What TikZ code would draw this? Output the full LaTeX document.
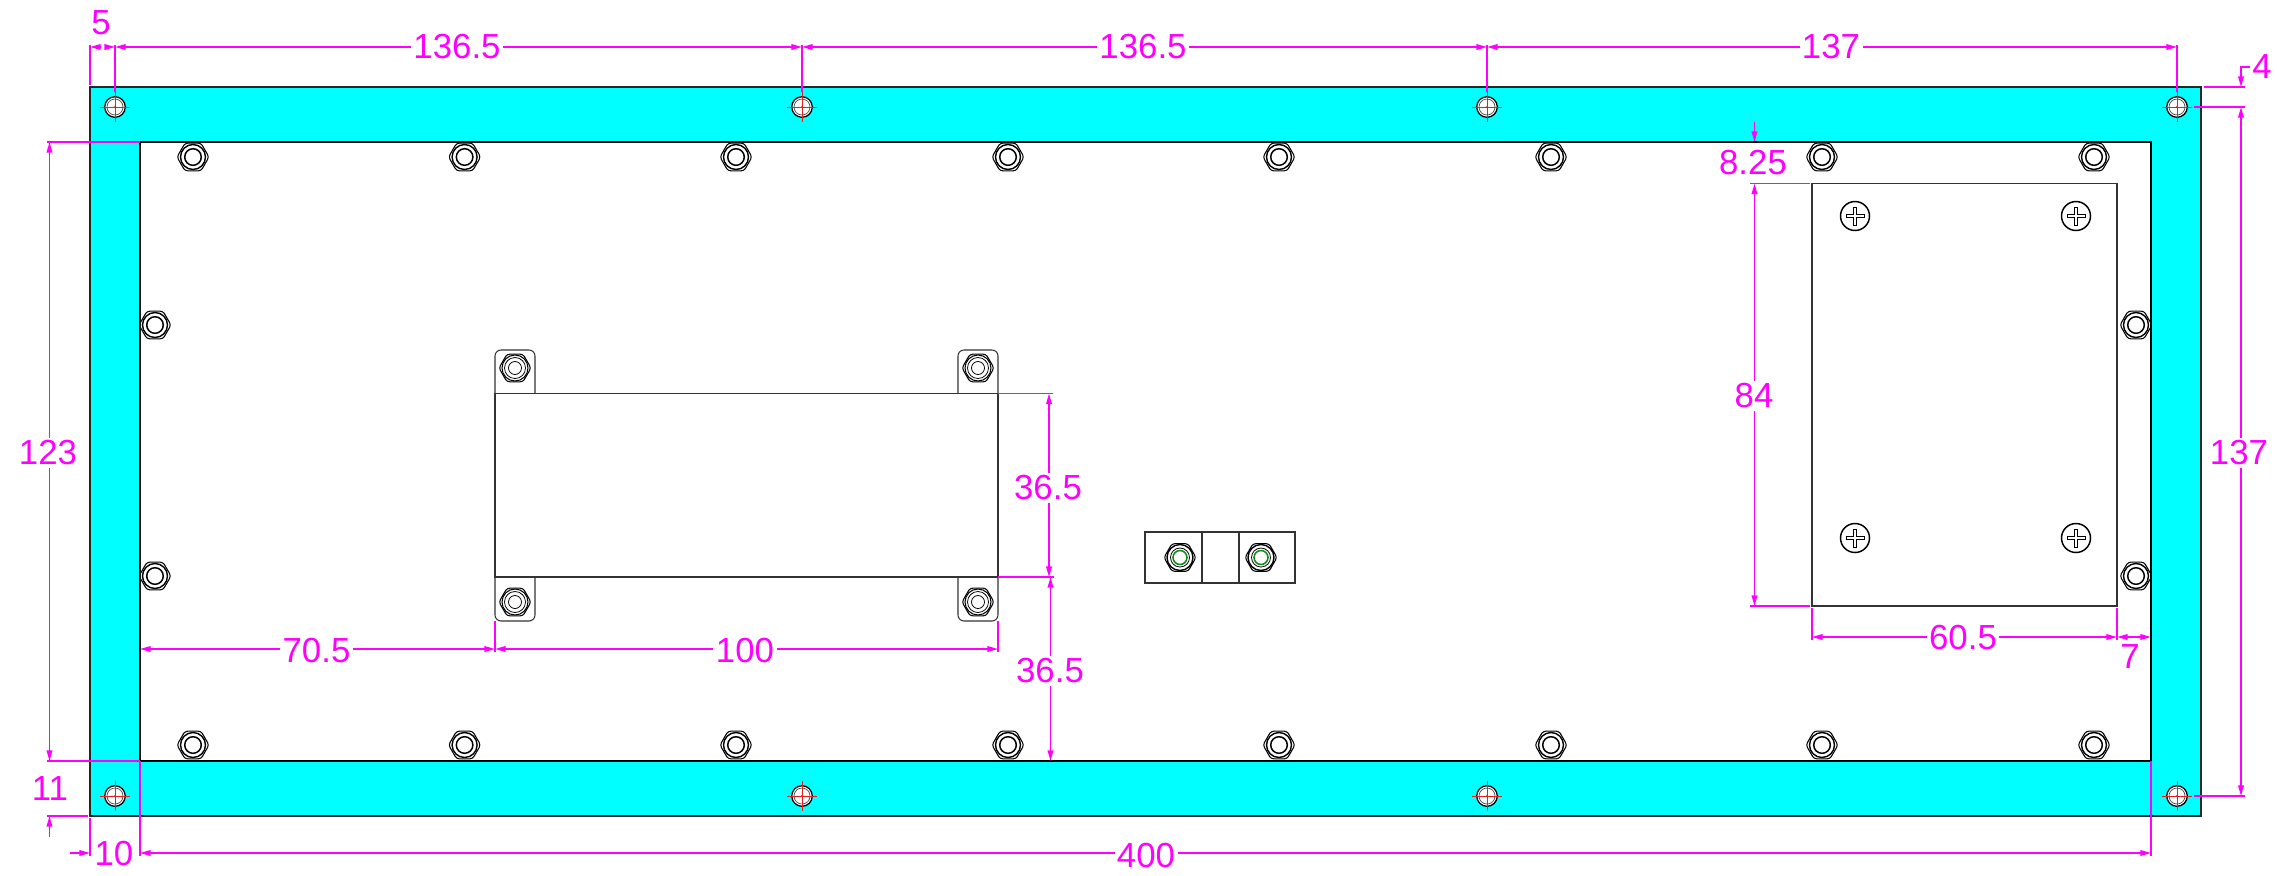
\documentclass[tikz,border=0pt]{standalone}
\usepackage{xcolor}
\usepackage{fontspec}
\setmainfont{Liberation Sans}
\usetikzlibrary{arrows.meta}

\definecolor{dimMagenta}{RGB}{255,0,255}
\definecolor{frameCyan}{RGB}{0,255,255}
\definecolor{holeRed}{RGB}{230,30,30}
\definecolor{nutGreen}{RGB}{20,140,30}

\tikzset{
    dimline/.style={dimMagenta, line width=0.4pt},
    dimboth/.style={dimline, {Stealth[length=3pt,width=1.6pt,inset=0pt]}-{Stealth[length=3pt,width=1.6pt,inset=0pt]}},
    dimend/.style={dimline, -{Stealth[length=3pt,width=1.6pt,inset=0pt]}},
    dimlabel/.style={text=dimMagenta, fill=white, inner sep=0.7pt, font=\fontsize{9.9}{10}\selectfont},
    partline/.style={black!80, line width=0.3pt},
    tabline/.style={partline, rounded corners=1.7pt},
}

\begin{document}
\begin{tikzpicture}[x=0.01cm, y=-0.01cm]
        \useasboundingbox (0,0) rectangle (2277,875);

        % Frame with window
        \fill[frameCyan, even odd rule] (90,87) rectangle (2201,816) (140,142) rectangle (2151,761);
        \draw[black!85, line width=0.36pt] (90,87) rectangle (2201,816);
        \draw[black, line width=0.36pt] (140,142) rectangle (2151,761);

        % Function to draw the hexagon of a nut
        \newcommand{\drawHex}[2]{
            \draw[black, line width=0.3pt, rounded corners=0.8pt] (#1,#2) +(0:16) -- +(60:16) -- +(120:16) -- +(180:16) -- +(240:16) -- +(300:16) -- cycle;
        }

        % Function to draw a hex nut
        \newcommand{\drawNut}[2]{
            \drawHex{#1}{#2}
            \draw[black, line width=0.4pt] (#1,#2) circle (12.5);
            \draw[black, line width=0.42pt] (#1,#2) circle (8.3);
        }

        % Function to draw a frame hole
        \newcommand{\drawHole}[2]{
            \fill[white] (#1,#2) circle (10);
            \draw[black, line width=0.36pt] (#1,#2) circle (10.3);
            \draw[black!70, line width=0.2pt] (#1,#2) circle (8);
            \draw[holeRed, line width=0.22pt] (#1-15,#2) -- (#1+15,#2) (#1,#2-15) -- (#1,#2+15);
            \fill[holeRed] (#1,#2) circle (1.2);
        }

        % Function to draw a cross head screw
        \newcommand{\drawScrew}[2]{
            \draw[black, line width=0.42pt] (#1,#2) circle (14.5);
            \draw[black, line width=0.22pt] (#1-9,#2-1.5) -- (#1-1.5,#2-1.5) -- (#1-1.5,#2-9) -- (#1+1.5,#2-9) -- (#1+1.5,#2-1.5) -- (#1+9,#2-1.5) -- (#1+9,#2+1.5) -- (#1+1.5,#2+1.5) -- (#1+1.5,#2+9) -- (#1-1.5,#2+9) -- (#1-1.5,#2+1.5) -- (#1-9,#2+1.5) -- cycle;
        }

        % Frame holes
        \foreach \x in {115,802,1487,2177} {
            \drawHole{\x}{107}
            \drawHole{\x}{796}
        }

        % Nuts along the window edge
        \foreach \x in {193,464.6,736,1008,1279,1551,1822,2094} {
            \drawNut{\x}{157}
            \drawNut{\x}{745}
        }
        \foreach \y in {325,576} {
            \drawNut{155}{\y}
            \drawNut{2136}{\y}
        }

        % Large box with four tabs
        \draw[partline] (495,393.5) rectangle (998,577);
        \foreach \x in {495,958} {
            \draw[tabline] (\x,393.5) -- (\x,350) -- (\x+40,350) -- (\x+40,393.5);
            \draw[tabline] (\x,577) -- (\x,621) -- (\x+40,621) -- (\x+40,577);
        }
        \foreach \x in {515,978} {
            \foreach \y in {368,602} {
                \drawHex{\x}{\y}
                \draw[black, line width=0.3pt] (\x,\y) circle (13);
                \draw[black, line width=0.22pt] (\x,\y) circle (10.5);
                \draw[black, line width=0.22pt] (\x,\y) circle (6.5);
            }
        }

        % Small block
        \draw[partline] (1145,532) rectangle (1295,583);
        \draw[partline] (1202,532) -- (1202,583) (1239,532) -- (1239,583);
        \foreach \x in {1180,1261} {
            \drawHex{\x}{557.5}
            \draw[black, line width=0.4pt] (\x,557.5) circle (13);
            \draw[black, line width=0.22pt] (\x,557.5) circle (9.5);
            \draw[nutGreen, line width=0.45pt] (\x,557.5) circle (7);
        }

        % Right panel
        \draw[partline] (1812,183.5) rectangle (2117,606);
        \foreach \x in {1855,2076} {
            \drawScrew{\x}{216}
            \drawScrew{\x}{538}
        }

        % Extension lines
        \draw[dimline] (90,45) -- (90,85);
        \foreach \x in {115,802,1487,2177} {
            \draw[dimline] (\x,45) -- (\x,92);
        }
        \draw[dimline] (47,142) -- (140,142) (47,761) -- (140,761) (47,816) -- (88,816);
        \draw[dimline] (90,818) -- (90,856) (140,761) -- (140,856) (2151,761) -- (2151,856);
        \draw[dimline] (2204,87) -- (2245,87) (2194,107) -- (2245,107) (2194,796) -- (2245,796);
        \draw[dimline] (998,393.5) -- (1053,393.5) (998,577) -- (1054,577);
        \draw[dimline] (495,621) -- (495,652) (998,621) -- (998,652);
        \draw[dimline] (1750,183.5) -- (1810,183.5) (1750,606) -- (1810,606);
        \draw[dimline] (1812,608) -- (1812,640) (2117,608) -- (2117,640);

        % Top dimensions
        \draw[dimend] (100,47) -- (90,47);
        \draw[dimend] (106,47) -- (115,47);
        \draw[dimboth] (115,47) -- (802,47);
        \draw[dimboth] (802,47) -- (1487,47);
        \draw[dimboth] (1487,47) -- (2177,47);
        \node[dimlabel] (lblEdgeHole) at (101,23) {5};
        \node[dimlabel] (lblPitchA) at (457,47) {136.5};
        \node[dimlabel] (lblPitchB) at (1143,47) {136.5};
        \node[dimlabel] (lblPitchC) at (1831,47) {137};

        % Left dimensions
        \draw[dimboth] (49.5,142) -- (49.5,761);
        \draw[dimend] (49.5,837) -- (49.5,816);
        \node[dimlabel] (lblWindowH) at (48,453) {123};
        \node[dimlabel] (lblBottomEdge) at (50,789) {11};

        % Bottom dimensions
        \draw[dimend] (70,853) -- (90,853);
        \draw[dimboth] (140,853) -- (2151,853);
        \node[dimlabel] (lblFrameW) at (114,854) {10};
        \node[dimlabel] (lblWindowW) at (1146,856) {400};

        % Right dimensions
        \draw[dimboth] (2241,107) -- (2241,796);
        \draw[dimend] (2252,67) -- (2241,67) -- (2241,87);
        \node[dimlabel] (lblTopHole) at (2262,67) {4};
        \node[dimlabel] (lblHolePitch) at (2239,453) {137};

        % Large box dimensions
        \draw[dimboth] (140,649) -- (495,649);
        \draw[dimboth] (495,649) -- (998,649);
        \draw[dimboth] (1049,393.5) -- (1049,577);
        \draw[dimboth] (1050.5,577) -- (1050.5,761);
        \node[dimlabel] (lblBoxX) at (316.5,651) {70.5};
        \node[dimlabel] (lblBoxW) at (745,651) {100};
        \node[dimlabel] (lblBoxH) at (1048,488) {36.5};
        \node[dimlabel] (lblBoxY) at (1050,671) {36.5};

        % Panel dimensions
        \draw[dimend] (1754.5,122) -- (1754.5,142);
        \draw[dimboth] (1754.5,183.5) -- (1754.5,606);
        \draw[dimboth] (1812,637) -- (2117,637);
        \draw[dimboth] (2117,637) -- (2151,637);
        \node[dimlabel] (lblPanelTop) at (1753,163) {8.25};
        \node[dimlabel] (lblPanelH) at (1754,396) {84};
        \node[dimlabel] (lblPanelW) at (1963,638) {60.5};
        \node[dimlabel] (lblPanelRight) at (2130,657) {7};

    \end{tikzpicture}
\end{document}
